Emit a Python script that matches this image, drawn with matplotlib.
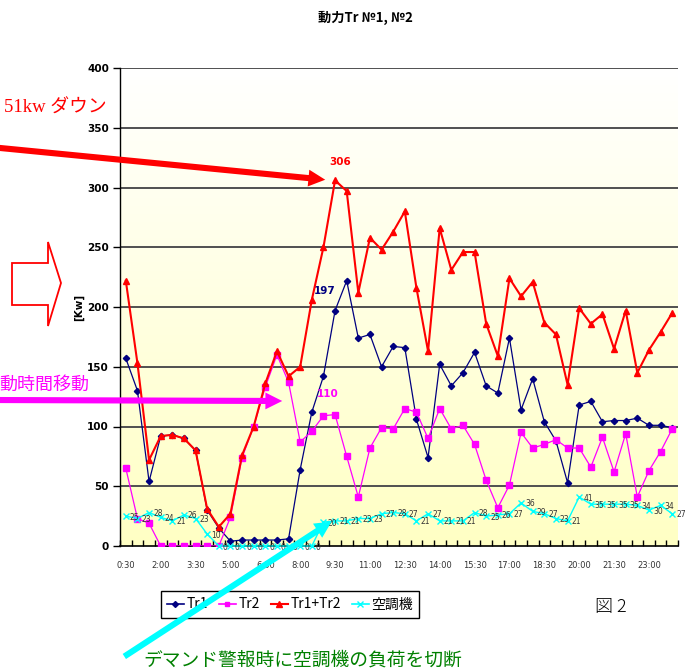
import numpy as np
import matplotlib.pyplot as plt
from matplotlib.patches import FancyArrowPatch, Polygon
from matplotlib.lines import Line2D
from matplotlib.colors import LinearSegmentedColormap

# half-hour readings 0:30 .. 24:00
tick_labels = ['0:30', '2:00', '3:30', '5:00', '6:30', '8:00', '9:30', '11:00',
               '12:30', '14:00', '15:30', '17:00', '18:30', '20:00', '21:30', '23:00']

tr1 = [157, 130, 54, 92, 93, 90, 80, 30, 15, 4, 5, 5, 5, 5, 6, 64,
       112, 142, 197, 222, 174, 177, 150, 167, 166, 106, 74, 152, 134, 145, 162, 134,
       128, 174, 114, 140, 104, 88, 53, 118, 121, 104, 105, 105, 107, 101, 101, 99]
tr2 = [65, 23, 19, 0, 0, 0, 0, 0, 0, 24, 74, 100, 133, 160, 137, 87,
       96, 109, 110, 75, 41, 82, 99, 98, 115, 112, 90, 115, 98, 101, 85, 55,
       32, 51, 95, 82, 85, 89, 82, 82, 66, 91, 62, 94, 41, 63, 79, 98]
tr_sum = [222, 153, 72, 92, 93, 90, 80, 31, 16, 27, 76, 100, 136, 163, 142, 150,
          206, 250, 306, 297, 212, 258, 248, 263, 280, 216, 163, 266, 231, 246, 246, 186,
          159, 224, 209, 221, 187, 177, 135, 199, 186, 194, 165, 197, 145, 164, 179, 195]
aircon = [25, 23, 28, 24, 21, 26, 23, 10, 0, 0, 0, 0, 0, 0, 0, 0,
          0, 20, 21, 21, 23, 23, 27, 28, 27, 21, 27, 21, 21, 21, 28, 25,
          26, 27, 36, 29, 27, 23, 21, 41, 35, 35, 35, 35, 34, 30, 34, 27]

W, H = 687, 671
SANS = ['DejaVu Sans']
JP = ['Noto Sans CJK JP', 'DejaVu Sans']
SERIF_JP = ['Liberation Serif', 'Noto Sans CJK JP']


def fx(x):
    return x / W


def fy(y):
    return 1 - y / H


fig = plt.figure(figsize=(W / 100, H / 100), dpi=100)
ax = fig.add_axes([fx(120), fy(546), (678 - 120) / W, (546 - 68) / H])

x = np.arange(len(tr1))

# background gradient of the plot area: yellow at the bottom, white at the top
cmap = LinearSegmentedColormap.from_list('bg', ['#FFFFFF', '#FFFFC4'])
grad = np.linspace(1, 0, 256).reshape(-1, 1)
ax.imshow(grad, extent=[-0.5, 47.5, 0, 400], origin='lower', aspect='auto',
          cmap=cmap, vmin=0, vmax=1, zorder=0)

for v in range(50, 401, 50):
    ax.axhline(v, color='#505050', lw=1.4, zorder=1)

ax.plot(x, tr1, color='#000080', lw=0.9, marker='D', ms=3.2, zorder=3)
ax.plot(x, tr2, color='#FF00FF', lw=0.9, marker='s', ms=4, zorder=4)
ax.plot(x, tr_sum, color='#FF0000', lw=1.5, marker='^', ms=4.5, zorder=5)
ax.plot(x, aircon, color='#00FFFF', lw=1.0, marker='x', ms=4.5, mew=1.0, zorder=6,
        clip_on=False)

for i, v in enumerate(aircon):
    ax.annotate(str(v), (i, v), xytext=(4, -1), textcoords='offset pixels',
                ha='left', va='center', fontsize=5.5, color='#333333',
                family=SANS, zorder=7, annotation_clip=False)

ax.annotate('197', (18, tr1[18]), xytext=(-10, 20), textcoords='offset pixels',
            ha='center', va='center', fontsize=7.5, fontweight='bold', color='#000080')
ax.annotate('306', (18, tr_sum[18]), xytext=(5, 18), textcoords='offset pixels',
            ha='center', va='center', fontsize=7.5, fontweight='bold', color='#FF0000')
ax.annotate('110', (18, tr2[18]), xytext=(-7, 21), textcoords='offset pixels',
            ha='center', va='center', fontsize=7.5, fontweight='bold', color='#FF00FF')

ax.set_xlim(-0.5, 47.5)
ax.set_ylim(0, 400)
ax.set_xticks(np.arange(-0.5, 48, 1))
ax.set_xticklabels([])
ax.set_xticks(np.arange(0, 48, 3), labels=tick_labels, minor=True)
ax.tick_params(axis='x', which='major', direction='in', length=4, width=1)
ax.tick_params(axis='x', which='minor', length=0, pad=11, labelsize=6,
               labelcolor='#333333')

ax.set_yticks(range(0, 401, 50))
ax.tick_params(axis='y', direction='out', length=5, width=1, pad=3, labelsize=7.5)
for t in ax.get_yticklabels():
    t.set_fontweight('bold')

ax.set_ylabel('[Kw]', fontsize=7.5, fontweight='bold')
ax.yaxis.set_label_coords(-(120 - 84) / 558, 0.5)

for s in ['top', 'right']:
    ax.spines[s].set_visible(False)
ax.spines['left'].set_linewidth(1.0)
ax.spines['bottom'].set_linewidth(1.2)

fig.text(fx(365), fy(18), '動力Tr №1, №2', ha='center', va='center', fontsize=9.5,
         fontweight='bold', family=JP)

# legend
handles = [
    Line2D([], [], color='#000080', lw=1.2, marker='D', ms=3),
    Line2D([], [], color='#FF00FF', lw=1.2, marker='s', ms=3.5),
    Line2D([], [], color='#FF0000', lw=1.5, marker='^', ms=4),
    Line2D([], [], color='#00FFFF', lw=1.2, marker='x', ms=4),
]
leg = fig.legend(handles, ['Tr1', 'Tr2', 'Tr1+Tr2', '空調機'], loc='center',
                 bbox_to_anchor=(fx(290), fy(604.5)), ncol=4, frameon=True,
                 fancybox=False, edgecolor='black', framealpha=1,
                 handlelength=1.2, columnspacing=0.8, handletextpad=0.2,
                 borderpad=0.45, prop={'family': JP, 'size': 10})
leg.get_frame().set_linewidth(1.0)

fig.text(fx(611), fy(607), '図 2', ha='center', va='center', fontsize=13,
         fontweight='light', family=JP)

# annotations
fig.text(fx(107), fy(108), '51kw ダウン', ha='right', va='center', fontsize=13.5,
         color='#FF0000', family=SERIF_JP)
fig.text(fx(89), fy(385), '動時間移動', ha='right', va='center', fontsize=13,
         color='#FF00FF', family=JP)
fig.text(fx(303), fy(660), 'デマンド警報時に空調機の負荷を切断', ha='center', va='center',
         fontsize=13.5, color='#008000', family=JP)


def arrow(x0, y0, x1, y1, color):
    a = FancyArrowPatch((fx(x0), fy(y0)), (fx(x1), fy(y1)), transform=fig.transFigure,
                        arrowstyle='simple,head_length=0.55,head_width=0.55,tail_width=0.2',
                        mutation_scale=22, color=color, lw=0, zorder=10)
    fig.add_artist(a)


arrow(-10, 147, 328, 180, '#FF0000')
arrow(-10, 400, 285, 401, '#FF00FF')
arrow(122, 658, 334, 520, '#00FFFF')

block = Polygon([(fx(12), fy(263)), (fx(48), fy(263)), (fx(48), fy(242)), (fx(61), fy(283)),
                 (fx(48), fy(326)), (fx(48), fy(305)), (fx(12), fy(305))],
                closed=True, transform=fig.transFigure, facecolor='white',
                edgecolor='#FF0000', lw=1.3, zorder=10)
fig.add_artist(block)

fig.savefig('out.png', dpi=100)
